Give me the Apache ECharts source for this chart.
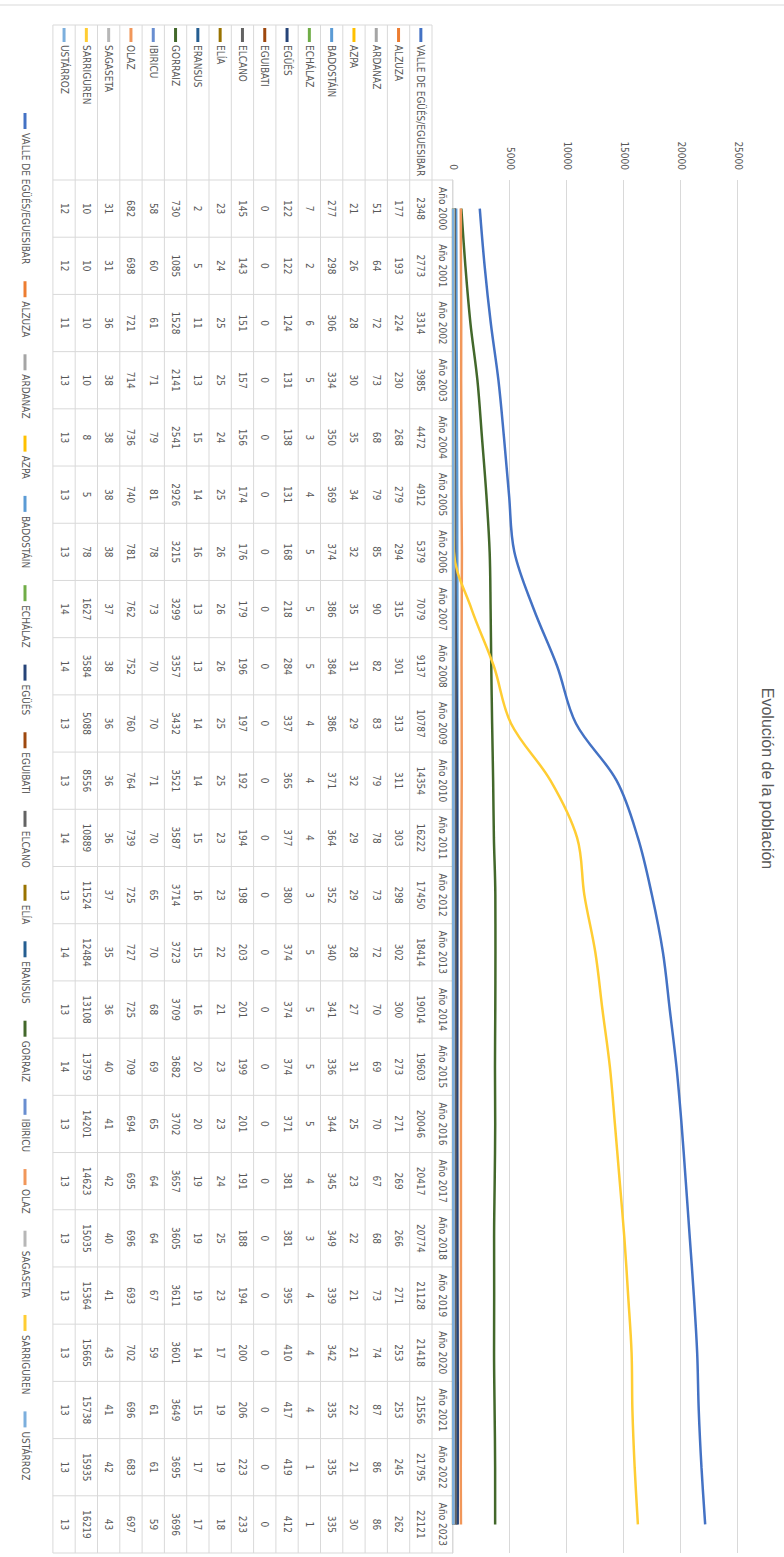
<!DOCTYPE html>
<html><head><meta charset="utf-8">
<script src="https://cdn.jsdelivr.net/npm/echarts@6/dist/echarts.min.js"></script>
<style>
html,body{margin:0;padding:0;background:#fff;overflow:hidden;width:784px;height:1557px}
#wrap{position:absolute;left:0;top:0;width:1557px;height:784px;transform-origin:0 0;transform:translateX(784px) rotate(90deg);}
#chart{width:1557px;height:784px}
</style></head><body><div id="wrap"><div id="chart"></div></div>
<script>
const years = ['Año 2000','Año 2001','Año 2002','Año 2003','Año 2004','Año 2005','Año 2006','Año 2007','Año 2008','Año 2009','Año 2010','Año 2011','Año 2012','Año 2013','Año 2014','Año 2015','Año 2016','Año 2017','Año 2018','Año 2019','Año 2020','Año 2021','Año 2022','Año 2023'];
const names = ['VALLE DE EGÜÉS/EGUESIBAR','ALZUZA','ARDANAZ','AZPA','BADOSTÁIN','ECHÁLAZ','EGÜÉS','EGUIBATI','ELCANO','ELÍA','ERANSUS','GORRAIZ','IBIRICU','OLAZ','SAGASETA','SARRIGUREN','USTÁRROZ'];
const valle      = [2348,2773,3314,3985,4472,4912,5379,7079,9137,10787,14354,16222,17450,18414,19014,19603,20046,20417,20774,21128,21418,21556,21795,22121];
const alzuza     = [177,193,224,230,268,279,294,315,301,313,311,303,298,302,300,273,271,269,266,271,253,253,245,262];
const ardanaz    = [51,64,72,73,68,79,85,90,82,83,79,78,73,72,70,69,70,67,68,73,74,87,86,86];
const azpa       = [21,26,28,30,35,34,32,35,31,29,32,29,29,28,27,31,25,23,22,21,21,22,21,30];
const badostain  = [277,298,306,334,350,369,374,386,384,386,371,364,352,340,341,336,344,345,349,339,342,335,335,335];
const echalaz    = [7,2,6,5,3,4,5,5,5,4,4,4,3,5,5,5,5,4,3,4,4,4,1,1];
const egues      = [122,122,124,131,138,131,168,218,284,337,365,377,380,374,374,374,371,381,381,395,410,417,419,412];
const eguibati   = [0,0,0,0,0,0,0,0,0,0,0,0,0,0,0,0,0,0,0,0,0,0,0,0];
const elcano     = [145,143,151,157,156,174,176,179,196,197,192,194,198,203,201,199,201,191,188,194,200,206,223,233];
const elia       = [23,24,25,25,24,25,26,26,26,25,25,23,23,22,21,23,23,24,25,23,17,19,19,18];
const eransus    = [2,5,11,13,15,14,16,13,13,14,14,15,16,15,16,20,20,19,19,19,14,15,17,17];
const gorraiz    = [730,1085,1528,2141,2541,2926,3215,3299,3357,3432,3521,3587,3714,3723,3709,3682,3702,3657,3605,3611,3601,3649,3695,3696];
const ibiricu    = [58,60,61,71,79,81,78,73,70,70,71,70,65,70,68,69,65,64,64,67,59,61,61,59];
const olaz       = [682,698,721,714,736,740,781,762,752,760,764,739,725,727,725,709,694,695,696,693,702,696,683,697];
const sagaseta   = [31,31,36,38,38,38,38,37,38,36,36,36,37,35,36,40,41,42,40,41,43,41,42,43];
const sarriguren = [10,10,10,10,8,5,78,1627,3584,5088,8556,10889,11524,12484,13108,13759,14201,14623,15035,15364,15665,15738,15935,16219];
const ustarroz   = [12,12,11,13,13,13,13,14,14,13,13,14,13,14,13,14,13,13,13,13,13,13,13,13];
const valueTicks = [0,5000,10000,15000,20000,25000];

const seriesData = [valle,alzuza,ardanaz,azpa,badostain,echalaz,egues,eguibati,elcano,elia,eransus,gorraiz,ibiricu,olaz,sagaseta,sarriguren,ustarroz];
const colors = ['#4472C4','#ED7D31','#A5A5A5','#FFC000','#5B9BD5','#70AD47','#264478','#9E480E','#636363','#997300','#255E91','#43682B','#698ED0','#F1975A','#B7B7B7','#FFCD33','#7CAFDD'];

const NARROW = "'DejaVu Sans Condensed','Liberation Sans Narrow',sans-serif";
const TXT = '#595959';
const LINE = '#D9D9D9';
const FS = 10;

const chart = echarts.init(document.getElementById('chart'), null, {renderer:'svg', width:1557, height:784});
const option = {
  animation:false,
  backgroundColor:'#fff',
  color: colors,
  title:{text:'Evolución de la población', left:'center', top:4,
    textStyle:{fontFamily:"'Liberation Sans',Arial,sans-serif", fontSize:16, fontWeight:'normal', color:TXT}},
  legend:{data:names, left:108, top:749, itemWidth:16, itemHeight:3, itemGap:17, icon:'rect',
    textStyle:{fontFamily:NARROW, fontSize:FS, color:TXT, padding:[0,0,0,-1]}},
  grid:{left:180, right:4, top:46, bottom:453, containLabel:false},
  xAxis:{type:'category', data:years, boundaryGap:true,
    axisLabel:{show:false}, axisTick:{show:false},
    axisLine:{show:true, lineStyle:{color:LINE, width:1}}},
  yAxis:{type:'value', min:valueTicks[0], max:valueTicks[valueTicks.length-1], interval:5000,
    axisLine:{show:false}, axisTick:{show:false},
    axisLabel:{fontFamily:NARROW, fontSize:FS, color:TXT, margin:10, formatter:v=>String(v)},
    splitLine:{lineStyle:{color:LINE, width:1}}},
  series: names.map((n,i)=>({name:n, type:'line', data:seriesData[i], smooth:0.35, showSymbol:false, symbol:'none',
    lineStyle:{width:2.5, color:colors[i]}, itemStyle:{color:colors[i]}, z:2+i*0.01}))
};
chart.setOption(option);

// Data table built from the category axis positions
const c0 = chart.convertToPixel({xAxisIndex:0}, 0);
const c1 = chart.convertToPixel({xAxisIndex:0}, 1);
const step = c1 - c0;
const zeroY = chart.convertToPixel({yAxisIndex:0}, 0);
const headerH = 21;
const rowH = 22.3;
const tableTop = zeroY + headerH;
const tableBottom = tableTop + rowH * names.length;
const tableLeft = 25;
const plotLeft = c0 - step/2;
const plotRight = c0 + step*(years.length-0.5);
const g = [];
const ls = {stroke:LINE, lineWidth:1};
const font = FS + "px " + NARROW;
g.push({type:'line', shape:{x1:plotLeft,y1:zeroY,x2:plotRight,y2:zeroY}, style:ls, silent:true});
for (let r=0;r<=names.length;r++){
  const y = tableTop + r*rowH;
  g.push({type:'line', shape:{x1:tableLeft,y1:y,x2:plotRight,y2:y}, style:ls, silent:true});
}
g.push({type:'line', shape:{x1:tableLeft,y1:tableTop,x2:tableLeft,y2:tableBottom}, style:ls, silent:true});
for (let i=0;i<=years.length;i++){
  const x = plotLeft + i*step;
  g.push({type:'line', shape:{x1:x,y1:zeroY,x2:x,y2:tableBottom}, style:ls, silent:true});
}
years.forEach((yl,i)=>{
  const cx = chart.convertToPixel({xAxisIndex:0}, i);
  g.push({type:'text', x:cx, y:zeroY+headerH/2, style:{text:yl, align:'center', verticalAlign:'middle', fill:TXT, font:font}, silent:true});
});
names.forEach((n,r)=>{
  const cy = tableTop + r*rowH + rowH/2;
  g.push({type:'line', shape:{x1:28,y1:cy,x2:42,y2:cy}, style:{stroke:colors[r], lineWidth:3}, silent:true});
  g.push({type:'text', x:45, y:cy, style:{text:n, align:'left', verticalAlign:'middle', fill:TXT, font:font}, silent:true});
  seriesData[r].forEach((v,i)=>{
    const cx = chart.convertToPixel({xAxisIndex:0}, i);
    g.push({type:'text', x:cx, y:cy, style:{text:String(v), align:'center', verticalAlign:'middle', fill:TXT, font:font}, silent:true});
  });
});
g.push({type:'rect', shape:{x:5,y:-2,width:1600,height:790}, style:{fill:'none', stroke:LINE, lineWidth:1}, silent:true, z:-1});
chart.setOption({graphic:g});
</script></body></html>
